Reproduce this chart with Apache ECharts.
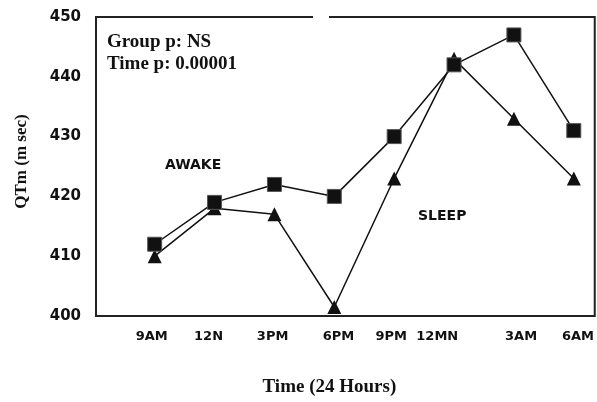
<!DOCTYPE html>
<html>
<head>
<meta charset="utf-8">
<script src="https://cdn.jsdelivr.net/npm/echarts@6/dist/echarts.min.js"></script>
<style>
  html, body { margin: 0; padding: 0; background: #fff; }
  #chart { width: 597px; height: 402px; }
</style>
</head>
<body>
<div id="chart"></div>
<script>
// readings per time point (index 0..7)
const timeLabels = ['9AM', '12N', '3PM', '6PM', '9PM', '12MN', '3AM', '6AM'];
const squareSeries = [412, 419, 422, 420, 430, 442, 447, 431];
const triangleSeries = [410, 418, 417, 401.5, 423, 443, 433, 423];
const yTicks = [400, 410, 420, 430, 440, 450];

// where the original figure put its time labels (in point-index units)
const labelPos = [-0.05, 0.9, 1.97, 3.07, 3.95, 4.72, 6.12, 7.07];

const ink = '#111';
const sans = 'DejaVu Sans';
const serif = 'Liberation Serif';

const chart = echarts.init(document.getElementById('chart'));

const toPoints = (vals) => vals.map((v, i) => [i, v]);

chart.setOption({
  animation: false,
  backgroundColor: '#fff',
  grid: {
    left: 96, right: 1, top: 17, bottom: 84,
    show: true, borderColor: '#222', borderWidth: 2
  },
  xAxis: {
    type: 'value',
    min: -0.98,
    max: 7.35,
    name: 'Time (24 Hours)',
    nameLocation: 'middle',
    nameGap: 62,
    nameTextStyle: { fontFamily: serif, fontWeight: 'bold', fontSize: 19, color: ink, padding: [0, 32, 0, 0] },
    axisLine: { show: false },
    axisTick: { show: false },
    splitLine: { show: false },
    axisLabel: {
      customValues: labelPos,
      margin: 14,
      fontFamily: sans, fontWeight: 'bold', fontSize: 13, color: ink,
      formatter: (v) => {
        let best = 0;
        labelPos.forEach((p, i) => { if (Math.abs(p - v) < Math.abs(labelPos[best] - v)) best = i; });
        return timeLabels[best];
      }
    }
  },
  yAxis: {
    type: 'value',
    min: yTicks[0],
    max: yTicks[yTicks.length - 1],
    interval: 10,
    name: 'QTm (m sec)',
    nameLocation: 'middle',
    nameGap: 66,
    nameTextStyle: { fontFamily: serif, fontWeight: 'bold', fontSize: 17, color: ink, padding: [0, 0, 0, 10] },
    axisLine: { show: false },
    axisTick: { show: false },
    splitLine: { show: false },
    axisLabel: { margin: 15, fontFamily: sans, fontWeight: 'bold', fontSize: 15, color: ink }
  },
  graphic: [
    { type: 'rect', shape: { x: 313, y: 13, width: 16, height: 8 }, style: { fill: '#fff' }, z: 100 },
    { type: 'text', left: 107, top: 33, style: { text: 'Group p: NS', font: `bold 19px "${serif}"`, fill: ink } },
    { type: 'text', left: 107, top: 55, style: { text: 'Time p: 0.00001', font: `bold 19px "${serif}"`, fill: ink } },
    { type: 'text', left: 165, top: 158, style: { text: 'AWAKE', font: `bold 14px "${sans}"`, fill: ink } },
    { type: 'text', left: 418, top: 209, style: { text: 'SLEEP', font: `bold 14px "${sans}"`, fill: ink } }
  ],
  series: [
    {
      name: 'triangle',
      type: 'line',
      data: toPoints(triangleSeries),
      symbol: 'triangle',
      symbolSize: 14,
      itemStyle: { color: ink },
      lineStyle: { color: ink, width: 1.5 }
    },
    {
      name: 'square',
      type: 'line',
      data: toPoints(squareSeries),
      symbol: 'rect',
      symbolSize: 14,
      itemStyle: { color: ink, borderColor: '#555', borderWidth: 1 },
      lineStyle: { color: ink, width: 1.5 }
    }
  ]
});
</script>
</body>
</html>
